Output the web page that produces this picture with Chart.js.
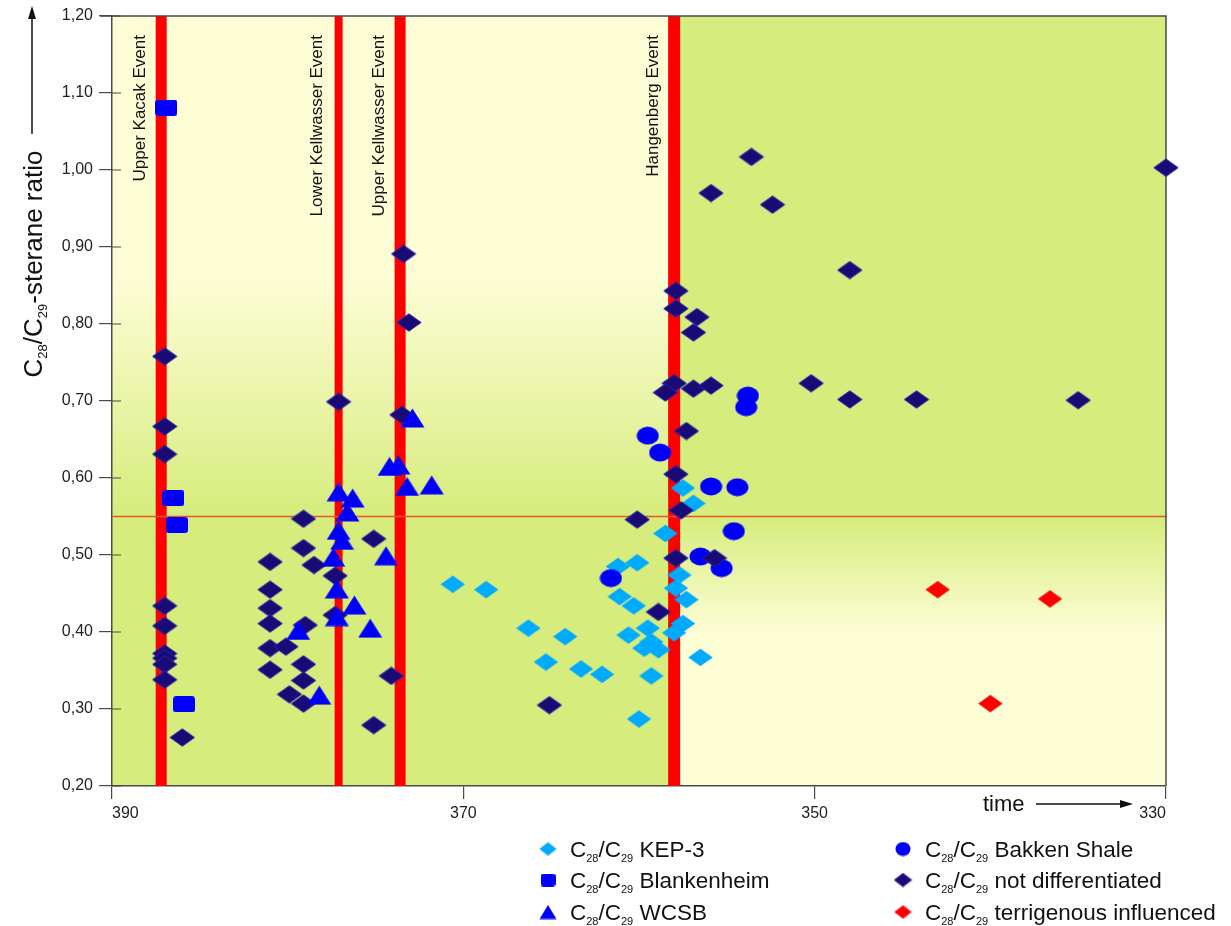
<!DOCTYPE html>
<html>
<head>
<meta charset="utf-8">
<title>C28/C29-sterane ratio through time</title>
<script src="https://cdn.jsdelivr.net/npm/chart.js@4/dist/chart.umd.min.js"></script>
<style>
  html, body { margin: 0; padding: 0; background: #ffffff; }
  canvas { display: block; }
</style>
</head>
<body>
<canvas id="chart" width="1231" height="926"></canvas>
<script>
// ---- axis ticks ----
const timeTicks = [330, 350, 370, 390];               // Ma
const ratioTicks = [0.2, 0.3, 0.4, 0.5, 0.6, 0.7, 0.8, 0.9, 1.0, 1.1, 1.2];

// ---- events and threshold ----
const eventNames = ['Upper Kacak Event', 'Lower Kellwasser Event', 'Upper Kellwasser Event', 'Hangenberg Event'];
const eventTimes = [387.2, 377.1, 373.6, 358.0];
const ratioThreshold = 0.55;

// ---- series: [time (Ma), C28/C29 ratio] ----
const kep3 = [
  [370.6, 0.462], [368.7, 0.455], [366.3, 0.405], [364.2, 0.394], [365.3, 0.361],
  [363.3, 0.352], [362.1, 0.345], [360.0, 0.287], [359.3, 0.343], [358.5, 0.528],
  [360.1, 0.490], [361.2, 0.485], [361.1, 0.446], [360.3, 0.434], [360.6, 0.396],
  [359.5, 0.405], [359.7, 0.379], [358.9, 0.377], [359.3, 0.387], [357.7, 0.474],
  [357.9, 0.457], [357.3, 0.442], [357.5, 0.411], [358.0, 0.399], [356.5, 0.367],
  [357.5, 0.587], [356.9, 0.567]
];
const blankenheim = [
  [386.9, 1.081], [386.5, 0.574], [386.3, 0.539], [385.9, 0.306]
];
const wcsb = [
  [377.1, 0.582], [376.3, 0.574], [376.6, 0.556], [377.1, 0.532], [376.9, 0.519],
  [377.4, 0.497], [377.2, 0.456], [377.2, 0.420], [376.2, 0.435], [375.3, 0.405],
  [378.2, 0.318], [379.4, 0.402], [374.4, 0.499], [374.2, 0.615], [373.7, 0.617],
  [373.2, 0.589], [371.8, 0.591], [372.9, 0.678]
];
const bakken = [
  [359.5, 0.655], [358.8, 0.633], [355.9, 0.589], [354.4, 0.588], [353.8, 0.707],
  [353.9, 0.692], [354.6, 0.531], [356.5, 0.498], [355.3, 0.483], [361.6, 0.470]
];
const notDifferentiated = [
  [387.0, 0.758], [387.0, 0.667], [387.0, 0.631], [387.0, 0.434], [387.0, 0.408],
  [387.0, 0.372], [387.0, 0.366], [387.0, 0.358], [387.0, 0.338], [386.0, 0.263],
  [379.1, 0.547], [379.1, 0.509], [381.0, 0.491], [378.5, 0.487], [381.0, 0.455],
  [381.0, 0.431], [381.0, 0.411], [379.0, 0.409], [381.0, 0.379], [380.1, 0.381],
  [381.0, 0.351], [379.1, 0.358], [379.1, 0.337], [379.9, 0.319], [379.1, 0.307],
  [377.1, 0.699], [375.1, 0.521], [377.3, 0.473], [377.3, 0.422], [374.1, 0.343],
  [375.1, 0.279], [373.4, 0.891], [373.1, 0.802], [373.5, 0.682],
  [353.6, 1.017], [355.9, 0.970], [352.4, 0.955], [348.0, 0.870], [357.9, 0.843],
  [357.9, 0.820], [356.7, 0.809], [356.9, 0.789], [358.0, 0.723], [358.5, 0.711],
  [356.9, 0.716], [355.9, 0.720], [350.2, 0.723], [348.0, 0.702], [344.2, 0.702],
  [335.0, 0.701], [330.0, 1.003], [357.3, 0.661], [357.9, 0.605], [357.6, 0.558],
  [360.1, 0.546], [357.9, 0.496], [355.7, 0.496], [358.9, 0.426], [365.1, 0.305]
];
const terrigenous = [
  [343.0, 0.455], [336.6, 0.443], [340.0, 0.307]
];

const seriesNames = ['KEP-3', 'Blankenheim', 'WCSB', 'Bakken Shale', 'not differentiated', 'terrigenous influenced'];

// ---- styling ----
const FAMILY = '"Liberation Sans", Arial, Helvetica, sans-serif';
const CREAM = 'rgb(253,253,214)';
const GREEN = 'rgb(214,236,124)';
const NAVY = 'rgb(26,10,118)';
const SKY = 'rgb(0,170,255)';
const BLUE = 'rgb(0,0,250)';
const RED = 'rgb(255,0,0)';
Chart.defaults.font.family = FAMILY;

function markerCanvas(w, h, paint) {
  const c = document.createElement('canvas');
  c.width = w; c.height = h;
  paint(c.getContext('2d'), w, h);
  return c;
}
function diamond(w, h, fill, stroke) {
  return markerCanvas(w, h, (g) => {
    g.beginPath();
    g.moveTo(w / 2, 0.8); g.lineTo(w - 0.8, h / 2); g.lineTo(w / 2, h - 0.8); g.lineTo(0.8, h / 2);
    g.closePath();
    g.fillStyle = fill; g.fill();
    if (stroke) { g.strokeStyle = stroke; g.lineWidth = 1; g.stroke(); }
  });
}
function square(w, h, fill) {
  return markerCanvas(w, h, (g) => {
    const r = 3;
    g.beginPath();
    g.moveTo(r, 0); g.lineTo(w - r, 0); g.quadraticCurveTo(w, 0, w, r);
    g.lineTo(w, h - r); g.quadraticCurveTo(w, h, w - r, h);
    g.lineTo(r, h); g.quadraticCurveTo(0, h, 0, h - r);
    g.lineTo(0, r); g.quadraticCurveTo(0, 0, r, 0);
    g.closePath();
    g.fillStyle = fill; g.fill();
  });
}
function triangle(w, h, fill) {
  return markerCanvas(w, h, (g) => {
    g.beginPath();
    g.moveTo(w / 2, 0.5); g.lineTo(w - 0.5, h - 0.5); g.lineTo(0.5, h - 0.5);
    g.closePath();
    g.fillStyle = fill; g.fill();
  });
}
function ellipse(w, h, fill) {
  return markerCanvas(w, h, (g) => {
    g.beginPath();
    g.ellipse(w / 2, h / 2, w / 2 - 0.5, h / 2 - 0.5, 0, 0, Math.PI * 2);
    g.fillStyle = fill; g.fill();
  });
}

const plotMarkers = [
  diamond(26, 19, SKY), square(22, 16, BLUE), triangle(25, 20, BLUE),
  ellipse(23, 19, BLUE), diamond(26, 19, NAVY, 'rgb(40,40,170)'), diamond(26, 19, RED)
];
const keyMarkers = [
  diamond(19, 15, SKY), square(15, 13, BLUE), triangle(18, 15, BLUE),
  ellipse(16, 15, BLUE), diamond(19, 15, NAVY, 'rgb(40,40,170)'), diamond(19, 15, RED)
];

// ---- rich text with subscripts ----
function prefixed(name) {
  return [['C', 0], ['28', 1], ['/C', 0], ['29', 1], [name, 0]];
}
function richWidth(ctx, parts, size) {
  let w = 0;
  for (const [t, sub] of parts) {
    ctx.font = `${sub ? Math.round(size * 0.5) : size}px ${FAMILY}`;
    w += ctx.measureText(t).width;
  }
  return w;
}
function drawRich(ctx, parts, x, y, size) {
  let cx = x;
  for (const [t, sub] of parts) {
    ctx.font = `${sub ? Math.round(size * 0.5) : size}px ${FAMILY}`;
    ctx.fillText(t, cx, sub ? y + size * 0.2 : y);
    cx += ctx.measureText(t).width;
  }
}

// ---- background bands, event lines, threshold, frame ----
const backdrop = {
  id: 'backdrop',
  beforeDraw(chart) {
    const { ctx, chartArea: a, scales: { x, y } } = chart;
    const xe = x.getPixelForValue(eventTimes[3]);
    const yT = y.getPixelForValue(ratioThreshold);
    ctx.save();
    let g = ctx.createLinearGradient(0, y.getPixelForValue(0.86), 0, yT);
    g.addColorStop(0, CREAM); g.addColorStop(1, GREEN);
    ctx.fillStyle = g;
    ctx.fillRect(a.left, a.top, xe - a.left, yT - a.top);
    ctx.fillStyle = GREEN;
    ctx.fillRect(a.left, yT, xe - a.left, a.bottom - yT);
    ctx.fillRect(xe, a.top, a.right - xe, yT - a.top);
    g = ctx.createLinearGradient(0, yT, 0, y.getPixelForValue(0.40));
    g.addColorStop(0, GREEN); g.addColorStop(1, CREAM);
    ctx.fillStyle = g;
    ctx.fillRect(xe, yT, a.right - xe, a.bottom - yT);
    ctx.restore();
  }
};

const eventWidths = [11, 8, 11, 12];
const events = {
  id: 'events',
  beforeDatasetsDraw(chart) {
    const { ctx, chartArea: a, scales: { x, y } } = chart;
    ctx.save();
    // event bands
    ctx.fillStyle = RED;
    eventTimes.forEach((t, i) => {
      const px = x.getPixelForValue(t);
      ctx.fillRect(px - eventWidths[i] / 2, a.top, eventWidths[i], a.bottom - a.top);
    });
    // threshold line
    const yT = y.getPixelForValue(ratioThreshold);
    ctx.strokeStyle = 'rgb(232,86,42)';
    ctx.lineWidth = 1.5;
    ctx.beginPath(); ctx.moveTo(a.left, yT); ctx.lineTo(a.right, yT); ctx.stroke();
    // event names, reading upward
    ctx.fillStyle = '#111';
    ctx.font = `17px ${FAMILY}`;
    ctx.textAlign = 'right';
    ctx.textBaseline = 'middle';
    eventTimes.forEach((t, i) => {
      const px = x.getPixelForValue(t);
      ctx.save();
      ctx.translate(px - 21, a.top + 19);
      ctx.rotate(-Math.PI / 2);
      ctx.fillText(eventNames[i], 0, 0);
      ctx.restore();
    });
    // frame and inner tick stubs
    ctx.strokeStyle = '#4a4a4a';
    ctx.lineWidth = 1.5;
    ctx.beginPath();
    ctx.moveTo(a.left - 12, a.top); ctx.lineTo(a.right, a.top); ctx.lineTo(a.right, a.bottom);
    ctx.stroke();
    ctx.lineWidth = 1.2;
    ctx.beginPath();
    y.ticks.forEach((tk) => {
      const py = y.getPixelForValue(tk.value);
      ctx.moveTo(a.left, py); ctx.lineTo(a.left + 9, py);
    });
    ctx.stroke();
    ctx.restore();
  }
};

// ---- axis title, time arrow and key ----
const annotations = {
  id: 'annotations',
  afterDraw(chart) {
    const { ctx } = chart;
    ctx.save();
    ctx.fillStyle = '#111';
    ctx.strokeStyle = '#111';
    ctx.textBaseline = 'alphabetic';
    ctx.textAlign = 'left';

    // ratio axis title with upward arrow
    const titleParts = prefixed('-sterane ratio');
    const tSize = 26;
    const tw = richWidth(ctx, titleParts, tSize);
    ctx.save();
    ctx.translate(42, 264);
    ctx.rotate(-Math.PI / 2);
    drawRich(ctx, titleParts, -tw / 2, 0, tSize);
    ctx.restore();
    ctx.lineWidth = 1.5;
    ctx.beginPath(); ctx.moveTo(32, 134); ctx.lineTo(32, 18); ctx.stroke();
    ctx.beginPath(); ctx.moveTo(32, 6); ctx.lineTo(28, 19); ctx.lineTo(36, 19); ctx.closePath(); ctx.fill();

    // time label with arrow
    ctx.font = `22px ${FAMILY}`;
    ctx.fillText('time', 983, 811);
    ctx.beginPath(); ctx.moveTo(1036, 804); ctx.lineTo(1122, 804); ctx.stroke();
    ctx.beginPath(); ctx.moveTo(1133, 804); ctx.lineTo(1120, 800); ctx.lineTo(1120, 808); ctx.closePath(); ctx.fill();

    // key: two columns of three rows
    const cols = [548, 903];
    const rows = [849, 880, 912];
    seriesNames.forEach((name, i) => {
      const cx = cols[Math.floor(i / 3)];
      const cy = rows[i % 3];
      const m = keyMarkers[i];
      ctx.drawImage(m, cx - m.width / 2, cy - m.height / 2);
      drawRich(ctx, prefixed(' ' + name), cx + 22, cy + 8, 22.5);
    });
    ctx.restore();
  }
};

// ---- chart ----
function series(label, pts, idx, order) {
  return {
    label: 'C₂₈/C₂₉ ' + label,
    data: pts.map(([t, r]) => ({ x: t, y: r })),
    pointStyle: plotMarkers[idx],
    pointRadius: 11,
    pointHoverRadius: 11,
    showLine: false,
    clip: false,
    order
  };
}

new Chart(document.getElementById('chart'), {
  type: 'scatter',
  data: {
    datasets: [
      series(seriesNames[0], kep3, 0, 3),
      series(seriesNames[1], blankenheim, 1, 0),
      series(seriesNames[2], wcsb, 2, 0),
      series(seriesNames[3], bakken, 3, 2),
      series(seriesNames[4], notDifferentiated, 4, 1),
      series(seriesNames[5], terrigenous, 5, 4)
    ]
  },
  options: {
    responsive: false,
    animation: false,
    layout: { padding: { top: 16, right: 65, left: 0, bottom: 0 } },
    plugins: { legend: { display: false }, tooltip: { enabled: true } },
    scales: {
      x: {
        type: 'linear',
        reverse: true,
        min: 330,
        max: 390,
        afterBuildTicks: (s) => { s.ticks = timeTicks.map((v) => ({ value: v })); },
        afterFit: (s) => { s.height = 140; },
        grid: { drawOnChartArea: false, tickLength: 13, color: '#4a4a4a', lineWidth: 1.2 },
        border: { color: '#4a4a4a', width: 1.5 },
        ticks: { align: 'inner', padding: 5, color: '#222', font: { size: 16 }, maxRotation: 0, callback: (v) => String(v) }
      },
      y: {
        type: 'linear',
        min: 0.2,
        max: 1.2,
        afterBuildTicks: (s) => { s.ticks = ratioTicks.map((v) => ({ value: v })); },
        afterFit: (s) => { s.width = 112; },
        grid: { drawOnChartArea: false, tickLength: 13, color: '#4a4a4a', lineWidth: 1.2 },
        border: { color: '#4a4a4a', width: 1.5 },
        ticks: { padding: 6, color: '#222', font: { size: 16 }, callback: (v) => Number(v).toFixed(2).replace('.', ',') }
      }
    }
  },
  plugins: [backdrop, events, annotations]
});
</script>
</body>
</html>
